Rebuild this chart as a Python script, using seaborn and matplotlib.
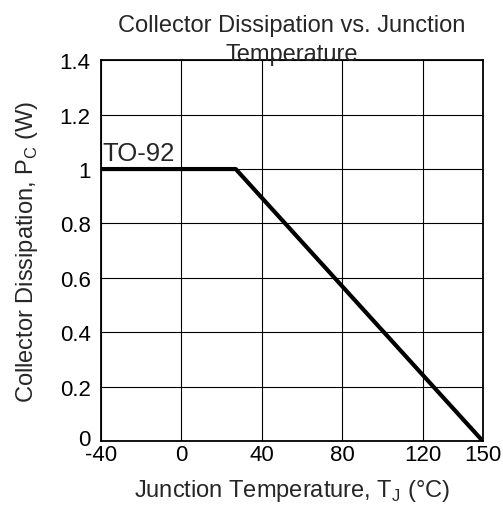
import matplotlib
matplotlib.use("Agg")
import matplotlib.pyplot as plt
import matplotlib.transforms as mtransforms
import seaborn as sns
import pandas as pd

# derating curve, TO-92
temp_c = [-40, 27, 150]
power_w = [1.0, 1.0, 0.0]
x_ticks = [-40, 0, 40, 80, 120, 150]
x_labels = ["-40", "0", "40", "80", "120", "150"]
y_ticks = [0, 0.2, 0.4, 0.6, 0.8, 1.0, 1.2, 1.4]
y_labels = ["0", "0.2", "0.4", "0.6", "0.8", "1", "1.2", "1.4"]

df = pd.DataFrame({"temp": temp_c, "power": power_w})

sns.set_theme(style="white")
plt.rcParams["font.family"] = ["Liberation Sans", "DejaVu Sans"]
plt.rcParams["mathtext.fontset"] = "custom"
plt.rcParams["mathtext.rm"] = "Liberation Sans"

fig = plt.figure(figsize=(5.03, 5.10), dpi=100)
ax = fig.add_axes([0.201, 0.133, 0.759, 0.747])

sns.lineplot(data=df, x="temp", y="power", ax=ax, color="black", linewidth=3.0)

ax.set_xlim(-40, 150)
ax.set_ylim(0, 1.4)
ax.set_xticks(x_ticks)
ax.set_xticklabels(x_labels)
ax.set_yticks(y_ticks)
ax.set_yticklabels(y_labels)
ax.tick_params(labelsize=16, length=0, colors="black")
ax.tick_params(axis="x", pad=2)
ax.tick_params(axis="y", pad=7.5)
ax.grid(True, color="black", linewidth=0.8)
for s in ax.spines.values():
    s.set_color("black")
    s.set_linewidth(1.3)

# lift the "0" y label a little so it clears "-40"
zero_lbl = ax.get_yticklabels()[0]
zero_lbl.set_transform(zero_lbl.get_transform() +
                       mtransforms.ScaledTranslation(0, 4 / 100, fig.dpi_scale_trans))

ax.text(-39.5, 1.015, "TO-92", fontsize=18.5, ha="left", va="bottom")

ax.set_title("Collector Dissipation vs. Junction\nTemperature", fontsize=17,
             linespacing=1.45, pad=0)
ax.set_xlabel(r"Junction Temperature, T$_{\mathregular{J}}$ (°C)", fontsize=17, labelpad=9)
ax.set_ylabel(r"Collector Dissipation, P$_{\mathregular{C}}$ (W)", fontsize=17, labelpad=14)

fig.savefig("out.png", dpi=100)
plt.close()
